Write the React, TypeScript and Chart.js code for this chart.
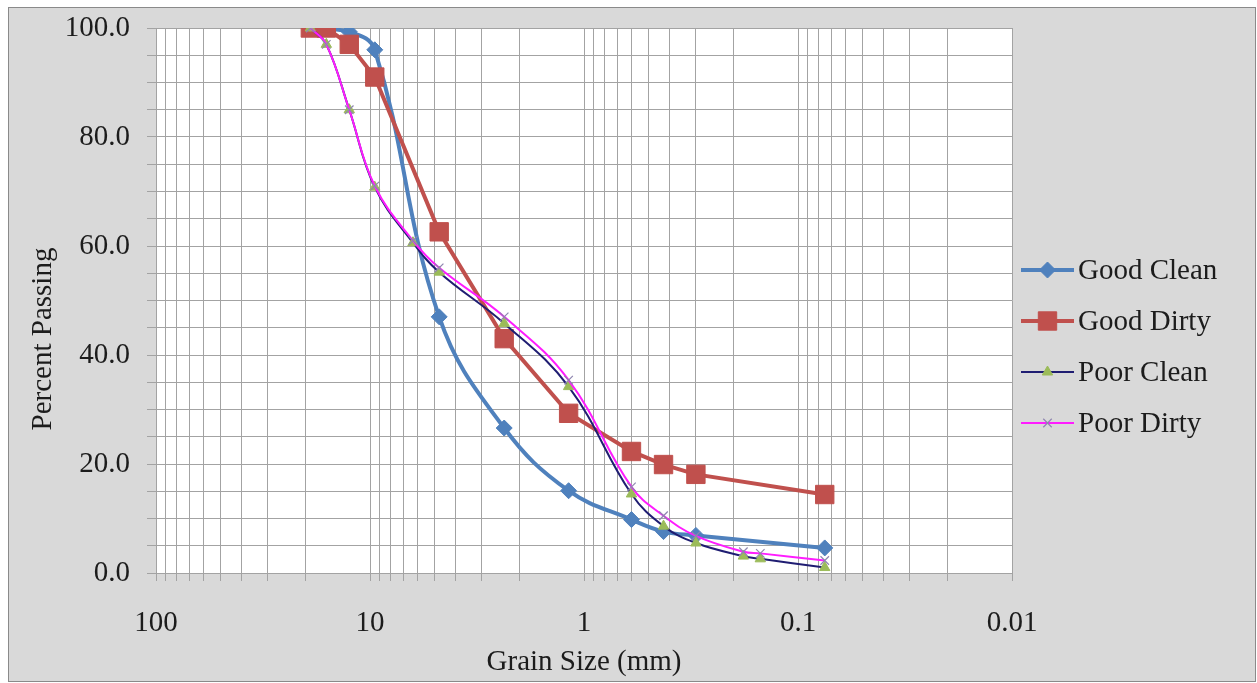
import React, { useEffect, useRef } from 'react';
import { Chart, registerables } from 'chart.js';
import { drawPoint } from 'chart.js/helpers';

Chart.register(...registerables);

// ---- data ----
const SERIES_NAMES = ['Good Clean', 'Good Dirty', 'Poor Clean', 'Poor Dirty'];

const SIZES_GOOD_CLEAN = [19, 12.5, 9.5, 4.75, 2.36, 1.18, 0.6, 0.425, 0.3, 0.075];
const GOOD_CLEAN = [100, 99.3, 96.0, 47.0, 26.6, 15.1, 9.8, 7.6, 6.9, 4.6];

const SIZES_GOOD_DIRTY = [19, 16, 12.5, 9.5, 4.75, 2.36, 1.18, 0.6, 0.425, 0.3, 0.075];
const GOOD_DIRTY = [100, 100, 97.0, 91.0, 62.6, 43.0, 29.3, 22.3, 19.9, 18.1, 14.4];

const SIZES_POOR = [19, 16, 12.5, 9.5, 6.3, 4.75, 2.36, 1.18, 0.6, 0.425, 0.3, 0.18, 0.15, 0.075];
const POOR_CLEAN = [100, 97.0, 85.0, 70.8, 60.6, 55.2, 45.8, 34.2, 14.5, 8.6, 5.5, 3.1, 2.6, 1.0];
const POOR_DIRTY = [100, 97.0, 85.0, 71.0, 61.0, 56.0, 47.0, 35.4, 15.8, 10.5, 6.8, 3.9, 3.6, 2.3];

const X_MAJOR_TICKS = [100, 10, 1, 0.1, 0.01];
const X_MINOR_STEPS = [2, 3, 4, 5, 6, 7, 8, 9];
const X_MIN = 0.01;
const X_MAX = 100;
const Y_MIN = 0;
const Y_MAX = 100;
const Y_GRID_STEP = 5;
const Y_LABEL_STEP = 20;

const X_TITLE = 'Grain Size (mm)';
const Y_TITLE = 'Percent Passing';

// ---- styles ----
const FONT_FAMILY = "'Liberation Serif', 'Times New Roman', serif";
const FONT_SIZE = 29;
const TEXT_COLOR = '#1c1c1c';
const GRID_COLOR = '#a3a3a3';
const OUTER_BG = '#d9d9d9';

const COLORS = {
  goodClean: '#4f81bd',
  goodDirty: '#c0504d',
  poorCleanLine: '#1f1d72',
  poorCleanMarker: '#9bbb59',
  poorDirtyLine: '#ff1cff',
  poorDirtyMarker: '#8f86b0',
};

const LEGEND_Y = [270, 321, 372, 423];

const toPoints = (xs: number[], ys: number[]) => xs.map((x, i) => ({ x, y: ys[i] }));

const buildXTicks = () => {
  const vals: number[] = [...X_MAJOR_TICKS];
  X_MAJOR_TICKS.filter((d) => d < X_MAX).forEach((d) => {
    X_MINOR_STEPS.forEach((m) => vals.push(Number((d * m).toPrecision(6))));
  });
  return vals.sort((a, b) => a - b).map((value) => ({ value }));
};

const framePlugin = {
  id: 'framePlugin',
  beforeDraw(chart: any) {
    const { ctx, width, height, chartArea } = chart;
    ctx.save();
    ctx.fillStyle = '#ffffff';
    ctx.fillRect(0, 0, width, height);
    ctx.fillStyle = OUTER_BG;
    ctx.fillRect(8, 8, width - 9, height - 9);
    ctx.strokeStyle = '#8a8a8a';
    ctx.lineWidth = 1;
    ctx.strokeRect(8.5, 7.5, width - 10, height - 9);
    ctx.fillStyle = '#ffffff';
    ctx.fillRect(chartArea.left, chartArea.top, chartArea.right - chartArea.left, chartArea.bottom - chartArea.top);
    ctx.restore();
  },
  afterDraw(chart: any) {
    const { ctx } = chart;
    ctx.save();
    // y-axis title
    ctx.font = `${FONT_SIZE}px ${FONT_FAMILY}`;
    ctx.fillStyle = TEXT_COLOR;
    ctx.textAlign = 'center';
    ctx.textBaseline = 'middle';
    ctx.translate(43, 339);
    ctx.rotate(-Math.PI / 2);
    ctx.fillText(Y_TITLE, 0, 0);
    ctx.restore();

    // legend
    ctx.save();
    chart.data.datasets.forEach((ds: any, i: number) => {
      const y = LEGEND_Y[i];
      ctx.strokeStyle = ds.borderColor;
      ctx.lineWidth = ds.borderWidth;
      ctx.beginPath();
      ctx.moveTo(1021, y);
      ctx.lineTo(1074, y);
      ctx.stroke();
      ctx.fillStyle = ds.pointBackgroundColor;
      ctx.strokeStyle = ds.pointBorderColor;
      ctx.lineWidth = ds.pointBorderWidth;
      drawPoint(ctx, { pointStyle: ds.pointStyle, radius: ds.pointRadius, rotation: 0, borderWidth: ds.pointBorderWidth }, 1047.5, y);
      ctx.font = `${FONT_SIZE}px ${FONT_FAMILY}`;
      ctx.fillStyle = TEXT_COLOR;
      ctx.textAlign = 'left';
      ctx.textBaseline = 'middle';
      ctx.fillText(ds.label, 1078, y + 1);
    });
    ctx.restore();
  },
};

export default function App() {
  const ref = useRef<HTMLCanvasElement>(null);

  useEffect(() => {
    const font = { family: FONT_FAMILY, size: FONT_SIZE };
    const chart = new Chart(ref.current as HTMLCanvasElement, {
      type: 'line',
      data: {
        datasets: [
          {
            label: SERIES_NAMES[0],
            data: toPoints(SIZES_GOOD_CLEAN, GOOD_CLEAN),
            borderColor: COLORS.goodClean,
            backgroundColor: COLORS.goodClean,
            borderWidth: 4,
            pointStyle: 'rectRot',
            pointRadius: 8,
            pointBackgroundColor: COLORS.goodClean,
            pointBorderColor: COLORS.goodClean,
            pointBorderWidth: 1,
            tension: 0.4,
            order: 4,
          },
          {
            label: SERIES_NAMES[1],
            data: toPoints(SIZES_GOOD_DIRTY, GOOD_DIRTY),
            borderColor: COLORS.goodDirty,
            backgroundColor: COLORS.goodDirty,
            borderWidth: 4,
            pointStyle: 'rect',
            pointRadius: 13,
            pointBackgroundColor: COLORS.goodDirty,
            pointBorderColor: COLORS.goodDirty,
            pointBorderWidth: 1,
            tension: 0,
            order: 3,
          },
          {
            label: SERIES_NAMES[2],
            data: toPoints(SIZES_POOR, POOR_CLEAN),
            borderColor: COLORS.poorCleanLine,
            backgroundColor: COLORS.poorCleanMarker,
            borderWidth: 2,
            pointStyle: 'triangle',
            pointRadius: 6,
            pointBackgroundColor: COLORS.poorCleanMarker,
            pointBorderColor: COLORS.poorCleanMarker,
            pointBorderWidth: 1,
            tension: 0.4,
            order: 2,
          },
          {
            label: SERIES_NAMES[3],
            data: toPoints(SIZES_POOR, POOR_DIRTY),
            borderColor: COLORS.poorDirtyLine,
            backgroundColor: COLORS.poorDirtyMarker,
            borderWidth: 2,
            pointStyle: 'crossRot',
            pointRadius: 6,
            pointBackgroundColor: COLORS.poorDirtyMarker,
            pointBorderColor: COLORS.poorDirtyMarker,
            pointBorderWidth: 1.2,
            tension: 0.4,
            order: 1,
          },
        ],
      },
      options: {
        responsive: false,
        animation: false,
        events: [],
        layout: { padding: { left: 0, top: 28, right: 245, bottom: 0 } },
        plugins: {
          legend: { display: false },
          tooltip: { enabled: false },
        },
        scales: {
          x: {
            type: 'logarithmic',
            reverse: true,
            min: X_MIN,
            max: X_MAX,
            afterBuildTicks: (scale: any) => {
              scale.ticks = buildXTicks();
            },
            afterFit: (scale: any) => {
              scale.height = 110;
              scale.paddingLeft = 0;
              scale.paddingRight = 0;
            },
            grid: { color: GRID_COLOR, lineWidth: 1, tickLength: 8, drawTicks: true },
            border: { display: true, color: GRID_COLOR, width: 1 },
            ticks: {
              autoSkip: false,
              maxRotation: 0,
              minRotation: 0,
              padding: 25,
              color: TEXT_COLOR,
              font,
              callback: (value: any) => (X_MAJOR_TICKS.includes(Number(value)) ? String(Number(value)) : ''),
            },
            title: {
              display: true,
              text: X_TITLE,
              color: TEXT_COLOR,
              font,
              padding: { top: 0, bottom: 3 },
            },
          },
          y: {
            type: 'linear',
            min: Y_MIN,
            max: Y_MAX,
            afterFit: (scale: any) => {
              scale.width = 156;
              scale.paddingTop = 0;
              scale.paddingBottom = 0;
            },
            grid: { color: GRID_COLOR, lineWidth: 1, tickLength: 9, drawTicks: true },
            border: { display: true, color: GRID_COLOR, width: 1 },
            ticks: {
              stepSize: Y_GRID_STEP,
              autoSkip: false,
              padding: 17,
              color: TEXT_COLOR,
              font,
              callback: (value: any) => (Number(value) % Y_LABEL_STEP === 0 ? Number(value).toFixed(1) : ''),
            },
          },
        },
      },
      plugins: [framePlugin],
    } as any);
    return () => chart.destroy();
  }, []);

  return (
    <div style={{ position: 'absolute', left: 0, top: 0, width: 1257, height: 683 }}>
      <canvas ref={ref} width={1257} height={683} style={{ display: 'block', width: 1257, height: 683 }} />
    </div>
  );
}
